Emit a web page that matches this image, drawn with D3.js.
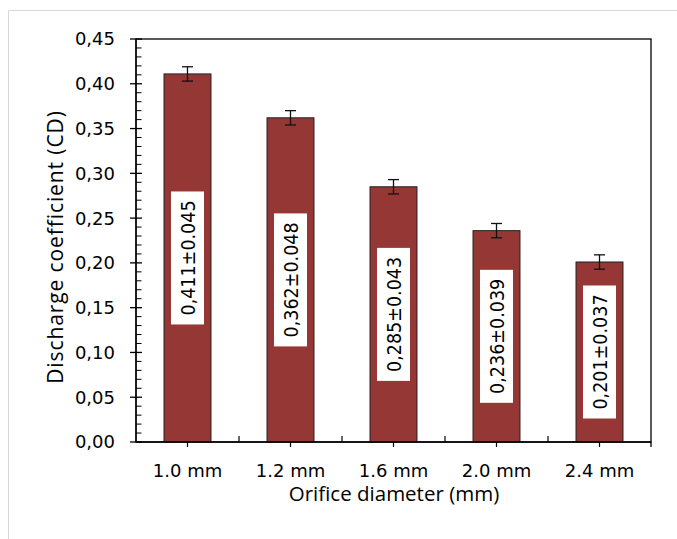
<!DOCTYPE html>
<html>
<head>
<meta charset="utf-8">
<script src="https://cdn.jsdelivr.net/npm/d3@7"></script>
<style>
  body { margin: 0; background: #fff; }
  svg { display: block; }
</style>
</head>
<body>
<svg></svg>
<script>
// data
const categories = ["1.0 mm", "1.2 mm", "1.6 mm", "2.0 mm", "2.4 mm"];
const means = [0.411, 0.362, 0.285, 0.236, 0.201];
const errors = [0.008, 0.008, 0.008, 0.008, 0.008];
const labels = ["0,411\u00b10.045", "0,362\u00b10.048", "0,285\u00b10.043", "0,236\u00b10.039", "0,201\u00b10.037"];
const yTicks = [0, 0.05, 0.1, 0.15, 0.2, 0.25, 0.3, 0.35, 0.4, 0.45];

const width = 677, height = 539;
const margin = {top: 39, right: 26, bottom: 97, left: 136};
const svg = d3.select("svg").attr("width", width).attr("height", height);

// outer chart frame
svg.append("path")
  .attr("d", `M8.5,${height} V10.5 H${width}`)
  .attr("fill", "none").attr("stroke", "#d9d9d9").attr("stroke-width", 1);

const x = d3.scaleBand().domain(categories).range([margin.left, width - margin.right]);
const y = d3.scaleLinear().domain([0, 0.45]).range([height - margin.bottom, margin.top]);
const barW = x.bandwidth() * 0.456;
const fmt = d => d.toFixed(2).replace(".", ",");

// plot border
svg.append("rect")
  .attr("x", margin.left).attr("y", margin.top)
  .attr("width", width - margin.left - margin.right)
  .attr("height", height - margin.top - margin.bottom)
  .attr("fill", "none").attr("stroke", "#000").attr("stroke-width", 1.3);

// bars
svg.selectAll("rect.bar").data(means).join("rect")
  .attr("class", "bar")
  .attr("x", (d, i) => x(categories[i]) + (x.bandwidth() - barW) / 2)
  .attr("y", d => y(d))
  .attr("width", barW)
  .attr("height", d => y(0) - y(d))
  .attr("fill", "#953735")
  .attr("stroke", "#222").attr("stroke-width", 1);

// error bars
const eb = svg.append("g").attr("stroke", "#111").attr("stroke-width", 1.3);
means.forEach((m, i) => {
  const cx = x(categories[i]) + x.bandwidth() / 2;
  eb.append("line").attr("x1", cx).attr("x2", cx).attr("y1", y(m + errors[i])).attr("y2", y(m - errors[i]));
  [m + errors[i], m - errors[i]].forEach(v => {
    eb.append("line").attr("x1", cx - 5.5).attr("x2", cx + 5.5).attr("y1", y(v)).attr("y2", y(v));
  });
});

// value labels, centred in bars
means.forEach((m, i) => {
  const cx = x(categories[i]) + x.bandwidth() / 2;
  const cy = y(m / 2);
  const g = svg.append("g").attr("transform", `translate(${cx},${cy}) rotate(-90)`);
  g.append("rect").attr("fill", "#fff")
    .attr("x", -66.5).attr("y", -16.5).attr("width", 133).attr("height", 33);
  g.append("text")
    .attr("text-anchor", "middle").attr("dy", "0.36em")
    .style("font-family", "'DejaVu Sans Condensed'").style("font-size", "19.5px")
    .attr("fill", "#000")
    .text(labels[i]);
});

// y axis
const yAxis = svg.append("g").attr("transform", `translate(${margin.left},0)`);
yAxis.append("line").attr("x1", 0).attr("x2", 0).attr("y1", y(0)).attr("y2", y(0.45))
  .attr("stroke", "#000").attr("stroke-width", 1.3);
d3.range(0, 45).forEach(k => {
  if (k % 5 === 0) return;
  yAxis.append("line").attr("x1", 0).attr("x2", 5.5).attr("y1", y(k / 100)).attr("y2", y(k / 100))
    .attr("stroke", "#000").attr("stroke-width", 1);
});
yTicks.forEach(v => {
  yAxis.append("line").attr("x1", -6).attr("x2", 6).attr("y1", y(v)).attr("y2", y(v))
    .attr("stroke", "#000").attr("stroke-width", 1.3);
  yAxis.append("text")
    .attr("x", -21).attr("y", y(v)).attr("dy", "0.36em")
    .attr("text-anchor", "end")
    .style("font-family", "'DejaVu Sans'").style("font-size", "18px")
    .text(fmt(v));
});

// x axis
const xAxis = svg.append("g");
xAxis.append("line").attr("x1", margin.left).attr("x2", width - margin.right)
  .attr("y1", y(0)).attr("y2", y(0)).attr("stroke", "#000").attr("stroke-width", 1.3);
categories.forEach((c, i) => {
  const cx = x(c) + x.bandwidth() / 2;
  xAxis.append("line").attr("x1", cx).attr("x2", cx).attr("y1", y(0)).attr("y2", y(0) + 5)
    .attr("stroke", "#000").attr("stroke-width", 1.2);
  if (i > 0) {
    xAxis.append("line").attr("x1", x(c)).attr("x2", x(c)).attr("y1", y(0)).attr("y2", y(0) - 6)
      .attr("stroke", "#000").attr("stroke-width", 1.2);
  }
  xAxis.append("text")
    .attr("x", cx).attr("y", 477)
    .attr("text-anchor", "middle")
    .style("font-family", "'DejaVu Sans'").style("font-size", "18px")
    .text(c);
});
xAxis.append("line").attr("x1", width - margin.right).attr("x2", width - margin.right)
  .attr("y1", y(0)).attr("y2", y(0) + 5).attr("stroke", "#000").attr("stroke-width", 1.3);

// axis titles
svg.append("text")
  .attr("x", 394).attr("y", 501)
  .attr("text-anchor", "middle")
  .style("font-family", "'Open Sans'").style("font-size", "20.5px")
  .text("Orifice diameter (mm)");
svg.append("text")
  .attr("transform", "translate(63,247) rotate(-90)")
  .attr("text-anchor", "middle")
  .style("font-family", "'Open Sans'").style("font-size", "21px")
  .style("letter-spacing", "0.9px")
  .text("Discharge coefficient (CD)");
</script>
</body>
</html>
